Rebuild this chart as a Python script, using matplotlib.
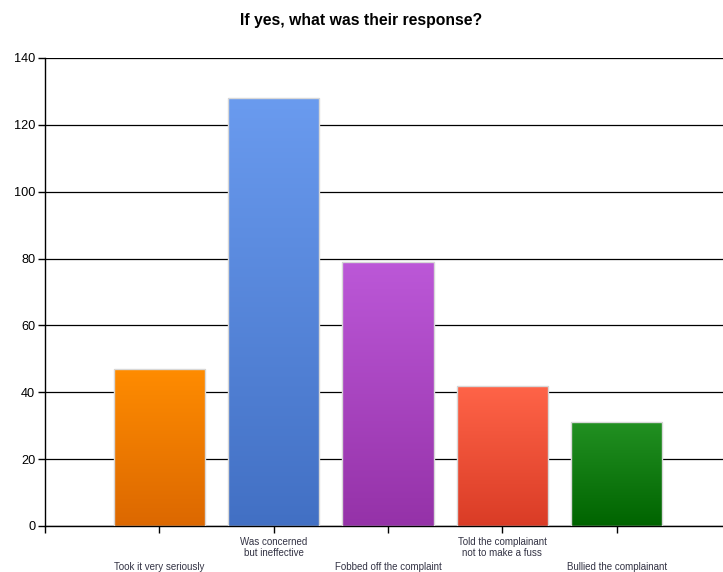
import matplotlib
matplotlib.use("Agg")
import matplotlib.pyplot as plt
import numpy as np
from matplotlib.colors import LinearSegmentedColormap

categories = ["Took it very seriously", "Was concerned\nbut ineffective",
              "Fobbed off the complaint", "Told the complainant\nnot to make a fuss",
              "Bullied the complainant"]
values = [47, 128, 79, 42, 31]
top_colors = ["#FF8C00", "#6A9BEF", "#BC58D8", "#FF6448", "#229022"]
bottom_colors = ["#DC6800", "#4270C4", "#9532A8", "#DA3C26", "#006400"]

plt.rcParams['font.family'] = ['Liberation Sans', 'DejaVu Sans']
fig = plt.figure(figsize=(7.23, 5.72), dpi=100)
ax = fig.add_axes([45/723, 46/572, 1 - 45/723, (526-58)/572])

x = np.arange(len(categories))
width = 0.8
bars = ax.bar(x, values, width=width, color='none', edgecolor='#d8d8d8', linewidth=1.0, zorder=3)
grad = np.linspace(0, 1, 256).reshape(-1, 1)
for b, tc, bc in zip(bars, top_colors, bottom_colors):
    cmap = LinearSegmentedColormap.from_list('g', [bc, tc])
    x0, y0 = b.get_x(), b.get_y()
    w, h = b.get_width(), b.get_height()
    im = ax.imshow(grad, cmap=cmap, aspect='auto', origin='lower',
                   extent=[x0, x0 + w, y0, y0 + h], zorder=2)
    im.set_clip_path(b)

ax.set_xlim(-1, 4.93)
ax.set_ylim(0, 140)
ax.set_yticks(np.arange(0, 141, 20))
ax.yaxis.grid(True, color='black', linewidth=0.9, zorder=1)
ax.set_axisbelow(True)
for s in ['top', 'right']:
    ax.spines[s].set_visible(False)
ax.spines['left'].set_linewidth(1.0)
ax.spines['bottom'].set_linewidth(1.0)

labels = []
for i, c in enumerate(categories):
    if i % 2 == 0:
        labels.append("\n\n" + c)
    else:
        labels.append(c)
ax.set_xticks([-1] + list(x))
ticklabels = ax.set_xticklabels([''] + labels, fontsize=7, color='#333344', linespacing=1.05)
for i, t in enumerate(ticklabels[1:]):
    if i % 2 == 0:
        t.set_linespacing(1.3)
ax.tick_params(axis='x', length=5, width=1, pad=3)
ax.tick_params(axis='y', length=5, width=1, labelsize=9.2, pad=2)

fig.suptitle("If yes, what was their response?", fontsize=11.3, fontweight='bold', y=0.978)
fig.savefig("out.png", dpi=100)
